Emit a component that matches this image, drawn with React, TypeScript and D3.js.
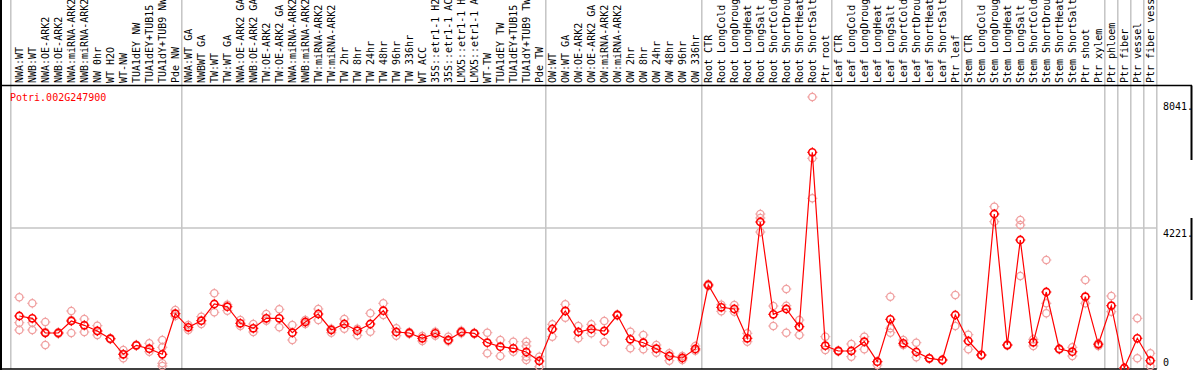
import React, { useRef, useEffect } from 'react';
import * as d3 from 'd3';

const geneId = "Potri.002G247900";

const sampleLabels = [
  "NWA:WT", "NWB:WT", "NWA:OE-ARK2", "NWB:OE-ARK2", "NWA:miRNA-ARK2", "NWB:miRNA-ARK2",
  "NW 0hr", "WT H2O", "WT-NW", "TUA1dEY NW", "TUA1dEY+TUB15", "TUA1dY+TUB9 NW", "Pde NW",
  "NWA:WT GA", "NWBWT GA", "TW:WT", "TW:WT GA", "NWA:OE-ARK2 GA", "NWB:OE-ARK2 GA",
  "TW:OE-ARK2", "TW:OE-ARK2 GA", "NWA:miRNA-ARK2", "NWB:miRNA-ARK2", "TW:miRNA-ARK2",
  "TW:miRNA-ARK2", "TW 2hr", "TW 8hr", "TW 24hr", "TW 48hr", "TW 96hr", "TW 336hr",
  "WT ACC", "35S::etr1-1 H2", "35S::etr1-1 AC", "LMX5::etr1-1 H", "LMX5::etr1-1 A",
  "WT-TW", "TUA1dEY TW", "TUA1dEY+TUB15", "TUA1dY+TUB9 TW", "Pde TW",
  "OW:WT", "OW:WT GA", "OW:OE-ARK2", "OW:OE-ARK2 GA", "OW:miRNA-ARK2", "OW:miRNA-ARK2",
  "OW 2hr", "OW 8hr", "OW 24hr", "OW 48hr", "OW 96hr", "OW 336hr",
  "Root CTR", "Root LongCold", "Root LongDroug", "Root LongHeat", "Root LongSalt",
  "Root ShortCold", "Root ShortDrou", "Root ShortHeat", "Root ShortSalt", "Ptr root",
  "Leaf CTR", "Leaf LongCold", "Leaf LongDroug", "Leaf LongHeat", "Leaf LongSalt",
  "Leaf ShortCold", "Leaf ShortDrou", "Leaf ShortHeat", "Leaf ShortSalt", "Ptr leaf",
  "Stem CTR", "Stem LongCold", "Stem LongDroug", "Stem LongHeat", "Stem LongSalt",
  "Stem ShortCold", "Stem ShortDrou", "Stem ShortHeat", "Stem ShortSalt", "Ptr shoot",
  "Ptr xylem", "Ptr phloem", "Ptr fiber", "Ptr vessel", "Ptr fiber vess"
];

const meanValues = [
  1568, 1498, 1055, 1055, 1417, 1287, 1116, 883, 413, 684, 582, 413, 1637,
  1227, 1426, 1930, 1848, 1348, 1197, 1498, 1498, 1064, 1387, 1628, 1146, 1327, 1125, 1327,
  1728, 1085, 1055, 895, 1046, 844, 1085, 1046, 763, 642, 594, 482, 211,
  1176, 1719, 1085, 1176, 1116, 1598, 865, 763, 582, 362, 302, 573,
  2502, 1830, 1779, 895, 4402, 1619, 1779, 1245, 6503, 672,
  513, 513, 793, 190, 1468, 745, 482, 292, 241, 1598,
  814, 392, 4643, 693, 3859, 775, 2291, 573, 491, 2150, 715,
  1878, 0, 895, 220
];

const replicateValues = [
  [2132, 1366, 1146], [1951, 1366, 1146], [1387, 1085, 693], [1030, 1055, 1080],
  [1719, 1447, 1055], [1477, 1296, 1085], [1275, 1116, 995], [870, 883, 895],
  [543, 422, 292], [670, 684, 700], [745, 582, 491], [844, 624, 142, 60], [1749, 1637, 1568],
  [1296, 1146], [1547, 1327], [2252, 1679], [1909, 1728], [1447, 1266], [1327, 1085],
  [1628, 1426], [1770, 1227], [1296, 844], [1447, 1327], [1779, 1447], [1185, 1064],
  [1477, 1185], [1185, 986], [1649, 1094], [1951, 1598], [1197, 974], [1085, 1025],
  [965, 814], [1094, 974], [944, 805], [1125, 1046], [1064, 1025], [1064, 443],
  [844, 362], [793, 491], [793, 663, 341, 241], [341, 39],
  [1318, 944], [1920, 1517], [1266, 895], [1318, 1046], [1417, 784], [1580, 1615],
  [1094, 594], [995, 564], [693, 461], [443, 220], [362, 241], [663, 522],
  [2470, 2530], [1909, 1709], [1899, 1697], [1046, 793], [4643, 4523, 4100],
  [1869, 1266], [2382, 1878, 1064], [1447, 995], [8171, 6323, 5116], [944, 543],
  [500, 525], [724, 341], [944, 564], [190, 90], [2150, 1197, 1064], [844, 693],
  [763, 323], [280, 305], [230, 250], [2201, 1266],
  [1004, 564], [380, 400], [4863, 4411], [680, 705], [4462, 4311, 2774], [865, 663],
  [3256, 1951, 1649], [560, 585], [624, 362], [2653, 1951], [745, 663],
  [2171, 1697], [0, 0], [1498, 292], [443, 60]
];

// index of the last sample before each grey separator
const groupBreaks = [12, 40, 52, 62, 72, 83, 84, 85, 86, 87];
const axisLabels = [8041, 4221, 0];
const gridValues = [4221];

const mono = "'DejaVu Sans Mono', monospace";

const ExpressionChart: React.FC = () => {
  const chartRef = useRef<SVGSVGElement>(null);

  useEffect(() => {
    if (!chartRef.current) return;
    const svg = d3.select(chartRef.current);
    svg.selectAll("*").remove();

    const width = 1194;
    const headerBottom = 85.5;
    const plotBottom = 369;
    const plotLeft = 12.8;
    const plotRight = 1156.8;

    const x = d3.scaleBand<number>()
      .domain(d3.range(sampleLabels.length))
      .range([plotLeft, plotRight]);
    const cx = (i: number) => (x(i) || 0) + x.bandwidth() / 2;

    const y = d3.scaleLinear()
      .domain([0, 8041])
      .range([368, 101.3]);

    // grey separators
    const sepX = [plotLeft - 2, ...groupBreaks.map(i => (x(i) || 0) + x.bandwidth())];
    svg.append("g")
      .selectAll("line")
      .data(sepX)
      .enter()
      .append("line")
      .attr("x1", d => d).attr("x2", d => d)
      .attr("y1", 0).attr("y2", plotBottom)
      .attr("stroke", "#c4c4c4")
      .attr("stroke-width", 1.5);

    svg.append("g")
      .selectAll("line")
      .data(gridValues)
      .enter()
      .append("line")
      .attr("x1", plotLeft - 2).attr("x2", plotRight)
      .attr("y1", d => y(d)).attr("y2", d => y(d))
      .attr("stroke", "#c4c4c4")
      .attr("stroke-width", 1.5);

    // frame
    const frame = svg.append("g").attr("stroke", "#000");
    frame.append("line").attr("x1", 0).attr("x2", width - 2).attr("y1", headerBottom).attr("y2", headerBottom).attr("stroke-width", 1.5);
    frame.append("line").attr("x1", 1).attr("x2", 1).attr("y1", 0).attr("y2", 370).attr("stroke-width", 2);
    frame.append("line").attr("x1", 0).attr("x2", plotRight).attr("y1", plotBottom).attr("y2", plotBottom).attr("stroke-width", 1.5);
    frame.append("line").attr("x1", width - 2.5).attr("x2", width - 2.5).attr("y1", headerBottom).attr("y2", 160).attr("stroke-width", 2);
    frame.append("line").attr("x1", width - 2.5).attr("x2", width - 2.5).attr("y1", 218).attr("y2", 300).attr("stroke-width", 2);

    // rotated sample labels
    svg.append("g")
      .selectAll("text")
      .data(sampleLabels)
      .enter()
      .append("text")
      .attr("transform", (d, i) => `translate(${cx(i) + 3.7},83) rotate(-90)`)
      .style("font-family", mono)
      .style("font-size", "10px")
      .attr("fill", "#000")
      .text(d => d);

    svg.append("text")
      .attr("x", 10)
      .attr("y", 101)
      .style("font-family", mono)
      .style("font-size", "10px")
      .attr("fill", "#ff0000")
      .text(geneId);

    svg.append("g")
      .selectAll("text")
      .data(axisLabels)
      .enter()
      .append("text")
      .attr("x", 1163)
      .attr("y", d => Math.min(y(d) + 9, 366))
      .style("font-family", mono)
      .style("font-size", "10px")
      .attr("fill", "#000")
      .text(d => d === 0 ? "0" : `${d}.`);

    const drawMarker = (g: d3.Selection<SVGGElement, unknown, null, undefined>, px: number, py: number, color: string, sw: number) => {
      const r = 3.6;
      g.append("circle")
        .attr("cx", px).attr("cy", py).attr("r", r)
        .attr("fill", "none").attr("stroke", color).attr("stroke-width", sw);
      [[0, -1], [0, 1], [-1, 0], [1, 0]].forEach(([dx, dy]) => {
        g.append("line")
          .attr("x1", px + dx * r).attr("y1", py + dy * r)
          .attr("x2", px + dx * (r + 1.5)).attr("y2", py + dy * (r + 1.5))
          .attr("stroke", color).attr("stroke-width", 1);
      });
    };

    // replicates
    const repG = svg.append("g");
    replicateValues.forEach((reps, i) => {
      reps.forEach(v => drawMarker(repG, cx(i), y(v), "#f0a0a0", 1.3));
    });

    // mean line
    const line = d3.line<number>()
      .x((d, i) => cx(i))
      .y(d => y(d));
    svg.append("path")
      .datum(meanValues)
      .attr("d", line)
      .attr("fill", "none")
      .attr("stroke", "#ff0000")
      .attr("stroke-width", 1.2);

    const meanG = svg.append("g");
    meanValues.forEach((v, i) => drawMarker(meanG, cx(i), y(v), "#ff0000", 1.6));
  }, []);

  return (
    <svg
      ref={chartRef}
      width={1194}
      height={370}
      style={{ position: "absolute", left: 0, top: 0, background: "#fff" }}
    />
  );
};

export default function App() {
  return <ExpressionChart />;
}
